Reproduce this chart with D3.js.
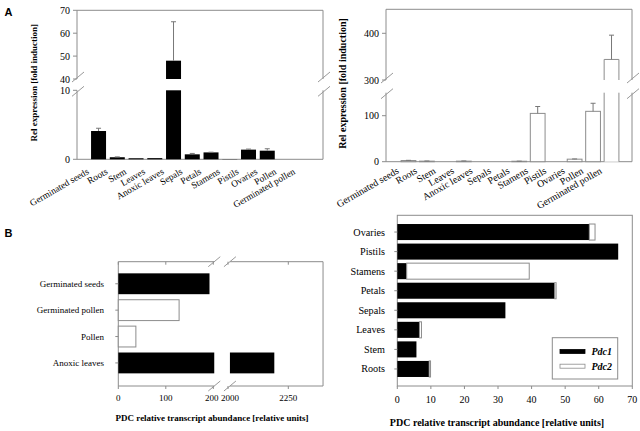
<!DOCTYPE html>
<html><head><meta charset="utf-8">
<script src="https://cdn.jsdelivr.net/npm/d3@7"></script>
<style>body{margin:0;background:#fff}svg{display:block}</style>
</head><body><svg id="c" width="640" height="431"></svg>
<script>
// ---------- data ----------
const tissuesA = ["Germinated seeds","Roots","Stem","Leaves","Anoxic leaves","Sepals","Petals","Stamens","Pistils","Ovaries","Pollen","Germinated pollen"];
const pdc1Fold = [4.1, 0.3, 0.15, 0.17, 48, 0.72, 1.0, 0.03, 1.4, 1.25, 0, 0];
const pdc1FoldErr = [0.4, 0.05, 0, 0, 17, 0.13, 0.03, 0, 0.08, 0.28, 0, 0];
const pdc2Fold = [2.5, 1.2, 0, 1.2, 0, 0, 1.0, 105, 0, 5.5, 109.5, 344];
const pdc2FoldErr = [0.5, 0.3, 0, 0.4, 0, 0, 0.2, 15, 0, 0.5, 17.5, 52];
const foldTicksPdc1 = [0, 10, 40, 50, 60, 70];
const foldTicksPdc2 = [0, 100, 300, 400];

const tissuesB1 = ["Germinated seeds","Germinated pollen","Pollen","Anoxic leaves"];
const b1Pdc1 = [192, 0, 0, 2192];
const b1Pdc2 = [0, 128, 37, 0];
const b1Ticks = [0, 100, 200, 2000, 2250];

const tissuesB2 = ["Ovaries","Pistils","Stamens","Petals","Sepals","Leaves","Stem","Roots"];
const b2Pdc1 = [57.2, 65.8, 2.8, 46.9, 32.2, 6.6, 5.7, 9.5];
const b2Pdc2 = [1.7, 0, 36.5, 0.4, 0, 0.6, 0, 0.4];
const b2Ticks = [0, 10, 20, 30, 40, 50, 60, 70];

const seriesNames = ["Pdc1", "Pdc2"];

// ---------- helpers ----------
const svg = d3.select("#c");
const grey = "#8c8c8c";
const serif = "'Liberation Serif','Times New Roman',serif";
const sans = "'Liberation Sans',Arial,sans-serif";
const fills = ["#000", "#fff"];

function line(g, x1, y1, x2, y2, color = grey, w = 1) {
  return g.append("line").attr("x1", x1).attr("y1", y1).attr("x2", x2).attr("y2", y2)
    .attr("stroke", color).attr("stroke-width", w);
}
function slash(g, cx, cy) {
  line(g, cx - 6, cy + 5, cx + 6, cy - 5, "#999", 1);
}
function text(g, x, y, s, size, opts = {}) {
  const t = g.append("text").attr("x", x).attr("y", y).text(s)
    .attr("font-family", opts.family || serif).attr("font-size", size)
    .attr("fill", "#000");
  if (opts.anchor) t.attr("text-anchor", opts.anchor);
  if (opts.weight) t.attr("font-weight", opts.weight);
  if (opts.style) t.attr("font-style", opts.style);
  if (opts.transform) t.attr("transform", opts.transform);
  return t;
}

// ---------- panel A: broken y-axis column charts ----------
function columnPanel(cfg) {
  const g = svg.append("g");
  const { left, right, top, bottom, low, lowMax, high, highMin, band, values, errors, fill } = cfg;
  const yLowTop = low(lowMax), yHighBot = high(highMin);
  // frame
  line(g, left, top, right, top);
  line(g, left, bottom, right, bottom);
  [left, right].forEach(x => {
    line(g, x, bottom, x, yLowTop);
    line(g, x, yHighBot, x, top);
    slash(g, x + 1, yHighBot - 2);
    slash(g, x + 1, yLowTop + 1);
  });
  // y ticks
  cfg.ticks.forEach(t => {
    const y = t <= lowMax ? low(t) : high(t);
    line(g, left - 4, y, left, y);
    text(g, left - 7, y + 3.5, t, cfg.tickSize, { anchor: "end" });
  });
  // bars
  const bw = band.bandwidth();
  tissuesA.forEach((c, i) => {
    const v = values[i];
    if (v <= 0) return;
    const x0 = band(c);
    const white = fill === "#fff";
    if (v <= lowMax) {
      g.append("rect").attr("x", x0).attr("y", low(v)).attr("width", bw).attr("height", low(0) - low(v))
        .attr("fill", fill).attr("stroke", white ? grey : "none");
    } else {
      g.append("rect").attr("x", x0).attr("y", yLowTop).attr("width", bw).attr("height", low(0) - yLowTop)
        .attr("fill", fill).attr("stroke", "none");
      g.append("rect").attr("x", x0).attr("y", high(v)).attr("width", bw).attr("height", yHighBot - high(v))
        .attr("fill", fill).attr("stroke", "none");
      if (white) {
        g.append("path").attr("fill", "none").attr("stroke", grey)
          .attr("d", `M${x0},${low(0)}V${yLowTop}M${x0 + bw},${low(0)}V${yLowTop}M${x0},${yHighBot}V${high(v)}H${x0 + bw}V${yHighBot}`);
      }
    }
    const e = errors[i];
    if (e > 0) {
      const yv = v <= lowMax ? low(v) : high(v);
      const ve = v + e;
      const ye = ve <= lowMax ? low(ve) : high(ve);
      const cx = x0 + bw / 2;
      line(g, cx, yv, cx, ye, "#777");
      line(g, cx - 2.5, ye, cx + 2.5, ye, "#777");
    }
  });
  // category labels
  tissuesA.forEach(c => {
    const cx = band(c) + bw / 2 + cfg.labelDx;
    const cy = bottom + cfg.labelDy;
    text(g, cx, cy, c, cfg.labelSize, { anchor: "end", transform: `rotate(-30,${cx},${cy})` });
  });
  // y title
  const ty = (top + bottom) / 2 - 2;
  text(g, cfg.titleX, ty, "Rel expression [fold induction]", cfg.titleSize,
    { anchor: "middle", weight: "bold", transform: `rotate(-90,${cfg.titleX},${ty})` });
}

columnPanel({
  left: 77, right: 323, top: 10.3, bottom: 159.3,
  low: d3.scaleLinear().domain([0, 10]).range([159.3, 90.3]), lowMax: 10,
  high: d3.scaleLinear().domain([40, 70]).range([79, 10.3]), highMin: 40,
  band: d3.scaleBand().domain(tissuesA).range([87.3, 316]).padding(0.2),
  values: pdc1Fold, errors: pdc1FoldErr, fill: fills[0],
  ticks: foldTicksPdc1, tickSize: 10, labelSize: 9.3, labelDx: -9, labelDy: 14,
  titleX: 37, titleSize: 9
});
columnPanel({
  left: 386, right: 632, top: 9.3, bottom: 161.7,
  low: d3.scaleLinear().domain([0, 100]).range([161.7, 115.7]), lowMax: 150,
  high: d3.scaleLinear().domain([300, 400]).range([80, 33.3]), highMin: 300,
  band: d3.scaleBand().domain(tissuesA).range([397.4, 622.6]).padding(0.2),
  values: pdc2Fold, errors: pdc2FoldErr, fill: fills[1],
  ticks: foldTicksPdc2, tickSize: 10, labelSize: 9.8, labelDx: -9, labelDy: 11,
  titleX: 346, titleSize: 10
});

// ---------- panel B left: broken x-axis bars ----------
(function () {
  const g = svg.append("g");
  const left = 118.3, top = 261.7, bottom = 386;
  const x1 = d3.scaleLinear().domain([0, 200]).range([118.3, 213.3]);
  const x2 = d3.scaleLinear().domain([2000, 2250]).range([228, 288.3]);
  const lowMax = 202, highMin = 2008, highMax = 2394;
  const right = x2(highMax);
  const y = d3.scaleBand().domain(tissuesB1).range([267.8, 378.9]).padding(0.21);
  const bh = y.bandwidth();
  // frame
  [top, bottom].forEach(yy => {
    line(g, left, yy, x1(lowMax), yy);
    line(g, x2(highMin), yy, right, yy);
    slash(g, x1(lowMax), yy);
    slash(g, x2(highMin), yy);
  });
  line(g, left, top, left, bottom);
  line(g, right, top, right, bottom);
  // ticks
  b1Ticks.forEach(t => {
    const xx = t <= lowMax ? x1(t) : x2(t);
    line(g, xx, bottom, xx, bottom + 3);
    line(g, xx, top, xx, top + 3);
    const shift = t === 200 ? -1.5 : (t === 2000 ? 2 : 0);
    text(g, xx + shift, bottom + 15, t, 9, { anchor: "middle" });
  });
  // bars (stacked Pdc1 then Pdc2)
  function seg(a, b, yy, fill) {
    const draw = (xa, xb) => g.append("rect").attr("x", xa).attr("y", yy).attr("width", xb - xa).attr("height", bh)
      .attr("fill", fill).attr("stroke", fill === "#fff" ? grey : "none");
    if (b <= lowMax) draw(x1(a), x1(b));
    else {
      if (a < lowMax) draw(x1(a), x1(lowMax));
      draw(x2(Math.max(a, highMin)), x2(b));
    }
  }
  tissuesB1.forEach((c, i) => {
    const yy = y(c);
    if (b1Pdc1[i] > 0) seg(0, b1Pdc1[i], yy, fills[0]);
    if (b1Pdc2[i] > 0) seg(b1Pdc1[i], b1Pdc1[i] + b1Pdc2[i], yy, fills[1]);
    line(g, left - 3, yy + bh / 2, left, yy + bh / 2);
    text(g, 104, yy + bh / 2 + 3, c, 9, { anchor: "end" });
  });
  text(g, 212, 420.5, "PDC relative transcript abundance [relative units]", 9, { anchor: "middle", weight: "bold" });
})();

// ---------- panel B right: stacked horizontal bars ----------
(function () {
  const g = svg.append("g");
  const left = 397.3, right = 632.3, top = 215.3, bottom = 386;
  const x = d3.scaleLinear().domain([0, 70]).range([left, right]);
  const y = d3.scaleBand().domain(tissuesB2).range([220.5, 380.5]).padding(0.18);
  const bh = y.bandwidth();
  g.append("rect").attr("x", left).attr("y", top).attr("width", right - left).attr("height", bottom - top)
    .attr("fill", "none").attr("stroke", grey);
  b2Ticks.forEach(t => {
    line(g, x(t), bottom, x(t), bottom + 3);
    text(g, x(t), bottom + 17, t, 10, { anchor: "middle" });
  });
  const stack = d3.stack().keys([0, 1]).value((d, k) => d[k])(tissuesB2.map((c, i) => [b2Pdc1[i], b2Pdc2[i]]));
  stack.forEach((layer, k) => {
    layer.forEach((d, i) => {
      if (d[1] - d[0] <= 0) return;
      g.append("rect").attr("x", x(d[0])).attr("y", y(tissuesB2[i])).attr("width", x(d[1]) - x(d[0])).attr("height", bh)
        .attr("fill", fills[k]).attr("stroke", k ? grey : "none");
    });
  });
  tissuesB2.forEach(c => {
    const cy = y(c) + bh / 2;
    line(g, left - 3, cy, left, cy);
    text(g, 385, cy + 3.5, c, 10.2, { anchor: "end" });
  });
  text(g, 497, 426, "PDC relative transcript abundance [relative units]", 10, { anchor: "middle", weight: "bold" });
  // legend
  const lg = g.append("g");
  lg.append("rect").attr("x", 552.3).attr("y", 337.7).attr("width", 65.4).attr("height", 41.3)
    .attr("fill", "#fff").attr("stroke", grey);
  seriesNames.forEach((s, k) => {
    const yy = 349.5 + k * 14.7;
    lg.append("rect").attr("x", 560).attr("y", yy).attr("width", 25).attr("height", 4)
      .attr("fill", fills[k]).attr("stroke", k ? grey : "#000").attr("stroke-width", 0.8);
    text(lg, 591.5, yy + 5.5, s, 10, { weight: "bold", style: "italic" });
  });
})();

// panel letters
text(svg, 4.5, 15.5, "A", 11, { family: sans, weight: "bold" });
text(svg, 4.5, 236.5, "B", 11, { family: sans, weight: "bold" });
</script></body></html>
